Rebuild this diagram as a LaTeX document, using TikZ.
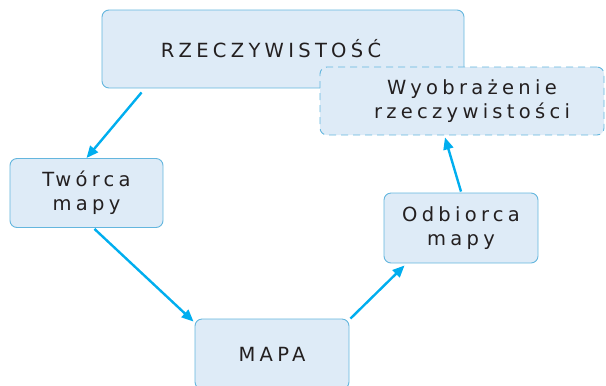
\documentclass[tikz,border=0pt]{standalone}
\usepackage{fontspec}
\setmainfont{DejaVu Sans}[LetterSpace=22]
\usetikzlibrary{arrows.meta}
\definecolor{boxfill}{RGB}{222,235,247}
\definecolor{boxline}{RGB}{100,182,222}
\definecolor{arrowcol}{RGB}{0,174,239}
\definecolor{txt}{RGB}{35,31,32}
\begin{document}
\begin{tikzpicture}[x=1bp,y=-1bp,
        box/.style={draw=boxline,fill=boxfill,line width=0.9bp,rounded corners=7bp,
            align=center,text=txt,font=\fontsize{19.5bp}{24bp}\selectfont,inner sep=0pt},
        dashbox/.style={box,dash pattern=on 7bp off 5bp},
        arr/.style={draw=arrowcol,line width=2.4bp,-{Triangle[length=12bp,width=10bp]}}]
\useasboundingbox (0,0) rectangle (606,385);

\node[box,minimum width=362bp,minimum height=78bp] (rzecz) at (283,49) {RZECZYWISTOŚĆ\hspace*{24bp}};
\node[dashbox,minimum width=284bp,minimum height=68bp] (wyobr) at (462,101)
    {\hspace*{20bp}Wyobrażenie\\\hspace*{20bp}rzeczywistości};
\node[box,minimum width=153bp,minimum height=69bp] (tworca) at (86.5,193) {Twórca\\mapy};
\node[box,minimum width=154bp,minimum height=70bp] (odbiorca) at (461,228) {Odbiorca\\mapy};
\node[box,minimum width=154bp,minimum height=70bp] (mapa) at (272,354) {MAPA};

\draw[arr] ([xshift=40bp,yshift=-4bp]rzecz.south west) -- (tworca.north);
\draw[arr] ([xshift=8bp,yshift=-1bp]tworca.south) -- ([xshift=-1bp,yshift=-3bp]mapa.north west);
\draw[arr] ([xshift=1bp]mapa.north east) -- ([xshift=21bp,yshift=-2bp]odbiorca.south west);
\draw[arr] ([yshift=1bp]odbiorca.north) -- ([xshift=-17bp,yshift=-2bp]wyobr.south);
\end{tikzpicture}
\end{document}
